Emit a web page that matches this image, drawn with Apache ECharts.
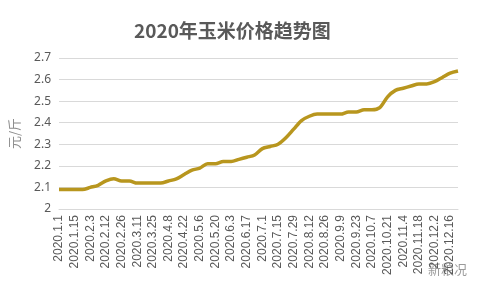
<!DOCTYPE html>
<html>
<head>
<meta charset="utf-8">
<script src="https://cdn.jsdelivr.net/npm/echarts@6/dist/echarts.min.js"></script>
<style>
	html, body { margin: 0; padding: 0; background: #fff; }
	#chart { width: 480px; height: 296px; }
</style>
</head>
<body>
<div id="chart"></div>
<script>
	// weekly dates, every other one is shown on the axis
	let dates = [
		'2020.1.1', '2020.1.8', '2020.1.15', '2020.1.22', '2020.2.3', '2020.2.5',
		'2020.2.12', '2020.2.19', '2020.2.26', '2020.3.4', '2020.3.11', '2020.3.18',
		'2020.3.25', '2020.4.1', '2020.4.8', '2020.4.15', '2020.4.22', '2020.4.29',
		'2020.5.6', '2020.5.13', '2020.5.20', '2020.5.27', '2020.6.3', '2020.6.10',
		'2020.6.17', '2020.6.24', '2020.7.1', '2020.7.8', '2020.7.15', '2020.7.22',
		'2020.7.29', '2020.8.5', '2020.8.12', '2020.8.19', '2020.8.26', '2020.9.2',
		'2020.9.9', '2020.9.16', '2020.9.23', '2020.9.30', '2020.10.7', '2020.10.14',
		'2020.10.21', '2020.10.28', '2020.11.4', '2020.11.11', '2020.11.18', '2020.11.25',
		'2020.12.2', '2020.12.9', '2020.12.16', '2020.12.23'
	];

	let prices = [
		2.09, 2.09, 2.09, 2.09, 2.10, 2.11, 2.13, 2.14, 2.13, 2.13,
		2.12, 2.12, 2.12, 2.12, 2.13, 2.14, 2.16, 2.18, 2.19, 2.21,
		2.21, 2.22, 2.22, 2.23, 2.24, 2.25, 2.28, 2.29, 2.30, 2.33,
		2.37, 2.41, 2.43, 2.44, 2.44, 2.44, 2.44, 2.45, 2.45, 2.46,
		2.46, 2.47, 2.52, 2.55, 2.56, 2.57, 2.58, 2.58, 2.59, 2.61,
		2.63, 2.64
	];

	let chart = echarts.init(document.getElementById('chart'));

	chart.setOption({
		animation: false,
		textStyle: { fontFamily: '"Noto Sans", "Noto Sans CJK SC", sans-serif' },
		title: {
			text: '2020年玉米价格趋势图',
			left: 129,
			top: 16,
			textStyle: {
				fontFamily: '"Noto Sans CJK SC", sans-serif',
				fontSize: 19,
				fontWeight: 'bold',
				color: '#595959'
			}
		},
		grid: {
			left: 50,
			right: 22,
			top: 58,
			bottom: 87
		},
		xAxis: {
			type: 'category',
			data: dates,
			boundaryGap: false,
			axisLine: { lineStyle: { color: '#d9d9d9' } },
			axisTick: { show: false },
			axisLabel: {
				interval: 1,
				rotate: 90,
				margin: 6,
				fontSize: 12,
				color: '#595959',
				fontFamily: '"Liberation Sans", sans-serif'
			}
		},
		yAxis: {
			type: 'value',
			min: 2,
			max: 2.7,
			interval: 0.1,
			name: '元/斤',
			nameLocation: 'middle',
			nameGap: 38,
			nameTextStyle: {
				fontSize: 13,
				color: '#8c8c8c',
				fontFamily: '"Noto Sans CJK SC", sans-serif'
			},
			axisLine: { show: false },
			axisTick: { show: false },
			axisLabel: {
				margin: 8,
				fontSize: 12,
				color: '#595959'
			},
			splitLine: { lineStyle: { color: '#d9d9d9' } }
		},
		series: [{
			name: '玉米价格',
			type: 'line',
			data: prices,
			smooth: 0.3,
			symbol: 'none',
			lineStyle: { color: '#b8961e', width: 3.5 }
		}],
		graphic: [{
			type: 'text',
			left: 428,
			top: 263,
			style: {
				text: '新粮况',
				fontSize: 13,
				fill: '#9a9a9a',
				fontFamily: '"Noto Sans CJK SC", sans-serif'
			}
		}]
	});
</script>
</body>
</html>
